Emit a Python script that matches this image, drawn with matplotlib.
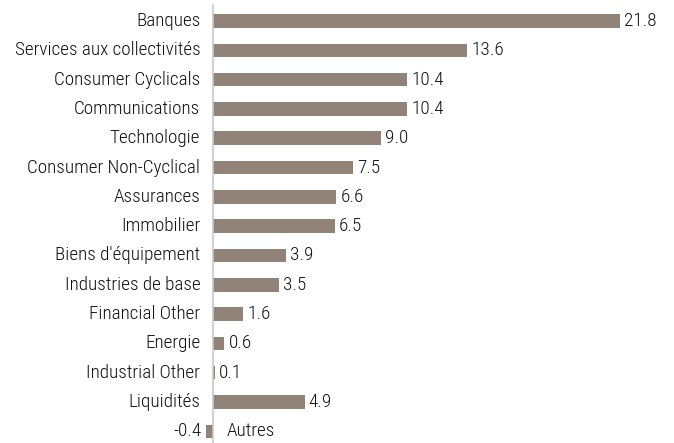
import matplotlib
matplotlib.use("Agg")
import matplotlib.pyplot as plt

categories = ["Banques", "Services aux collectivités", "Consumer Cyclicals", "Communications",
              "Technologie", "Consumer Non-Cyclical", "Assurances", "Immobilier",
              "Biens d'équipement", "Industries de base", "Financial Other", "Energie",
              "Industrial Other", "Liquidités", "Autres"]
values = [21.8, 13.6, 10.4, 10.4, 9.0, 7.5, 6.6, 6.5, 3.9, 3.5, 1.6, 0.6, 0.1, 4.9, -0.4]
value_labels = ["21.8", "13.6", "10.4", "10.4", "9.0", "7.5", "6.6", "6.5", "3.9", "3.5",
                "1.6", "0.6", "0.1", "4.9", "-0.4"]

plt.rcParams['font.family'] = ['Roboto Condensed', 'DejaVu Sans']

W, H = 674, 443
fig = plt.figure(figsize=(W/100, H/100), dpi=100)
ax = fig.add_axes([0, 0, 1, 1])
ax.axis('off')

x0 = 213.3
scale = (620 - x0) / 21.8
y0 = 21.0
step = (431.3 - y0) / 14.0
ax.set_xlim(-x0/scale, (W - x0)/scale)
ax.set_ylim((H - y0)/step, -y0/step)

bar_color = "#928379"
ypos = list(range(len(categories)))
ax.barh(ypos, values, height=13.5/step, color=bar_color, zorder=2)
ax.plot([0, 0], [ax.get_ylim()[0], -(y0 - 5)/step], color="#c8c8c8", lw=1.2, zorder=3)

fs = 13.8
off = 13/scale
gap = 4/scale
tkw = dict(fontsize=fs, color="#111111", fontweight=300)
for y, c, v, lab in zip(ypos, categories, values, value_labels):
    if v >= 0:
        ax.text(-off, y, c, ha='right', va='center', **tkw)
        ax.text(v + gap, y, lab, ha='left', va='center', **tkw)
    else:
        ax.text(off, y, c, ha='left', va='center', **tkw)
        ax.text(v - gap, y, lab, ha='right', va='center', **tkw)

fig.savefig("out.png", dpi=100, facecolor="white")
